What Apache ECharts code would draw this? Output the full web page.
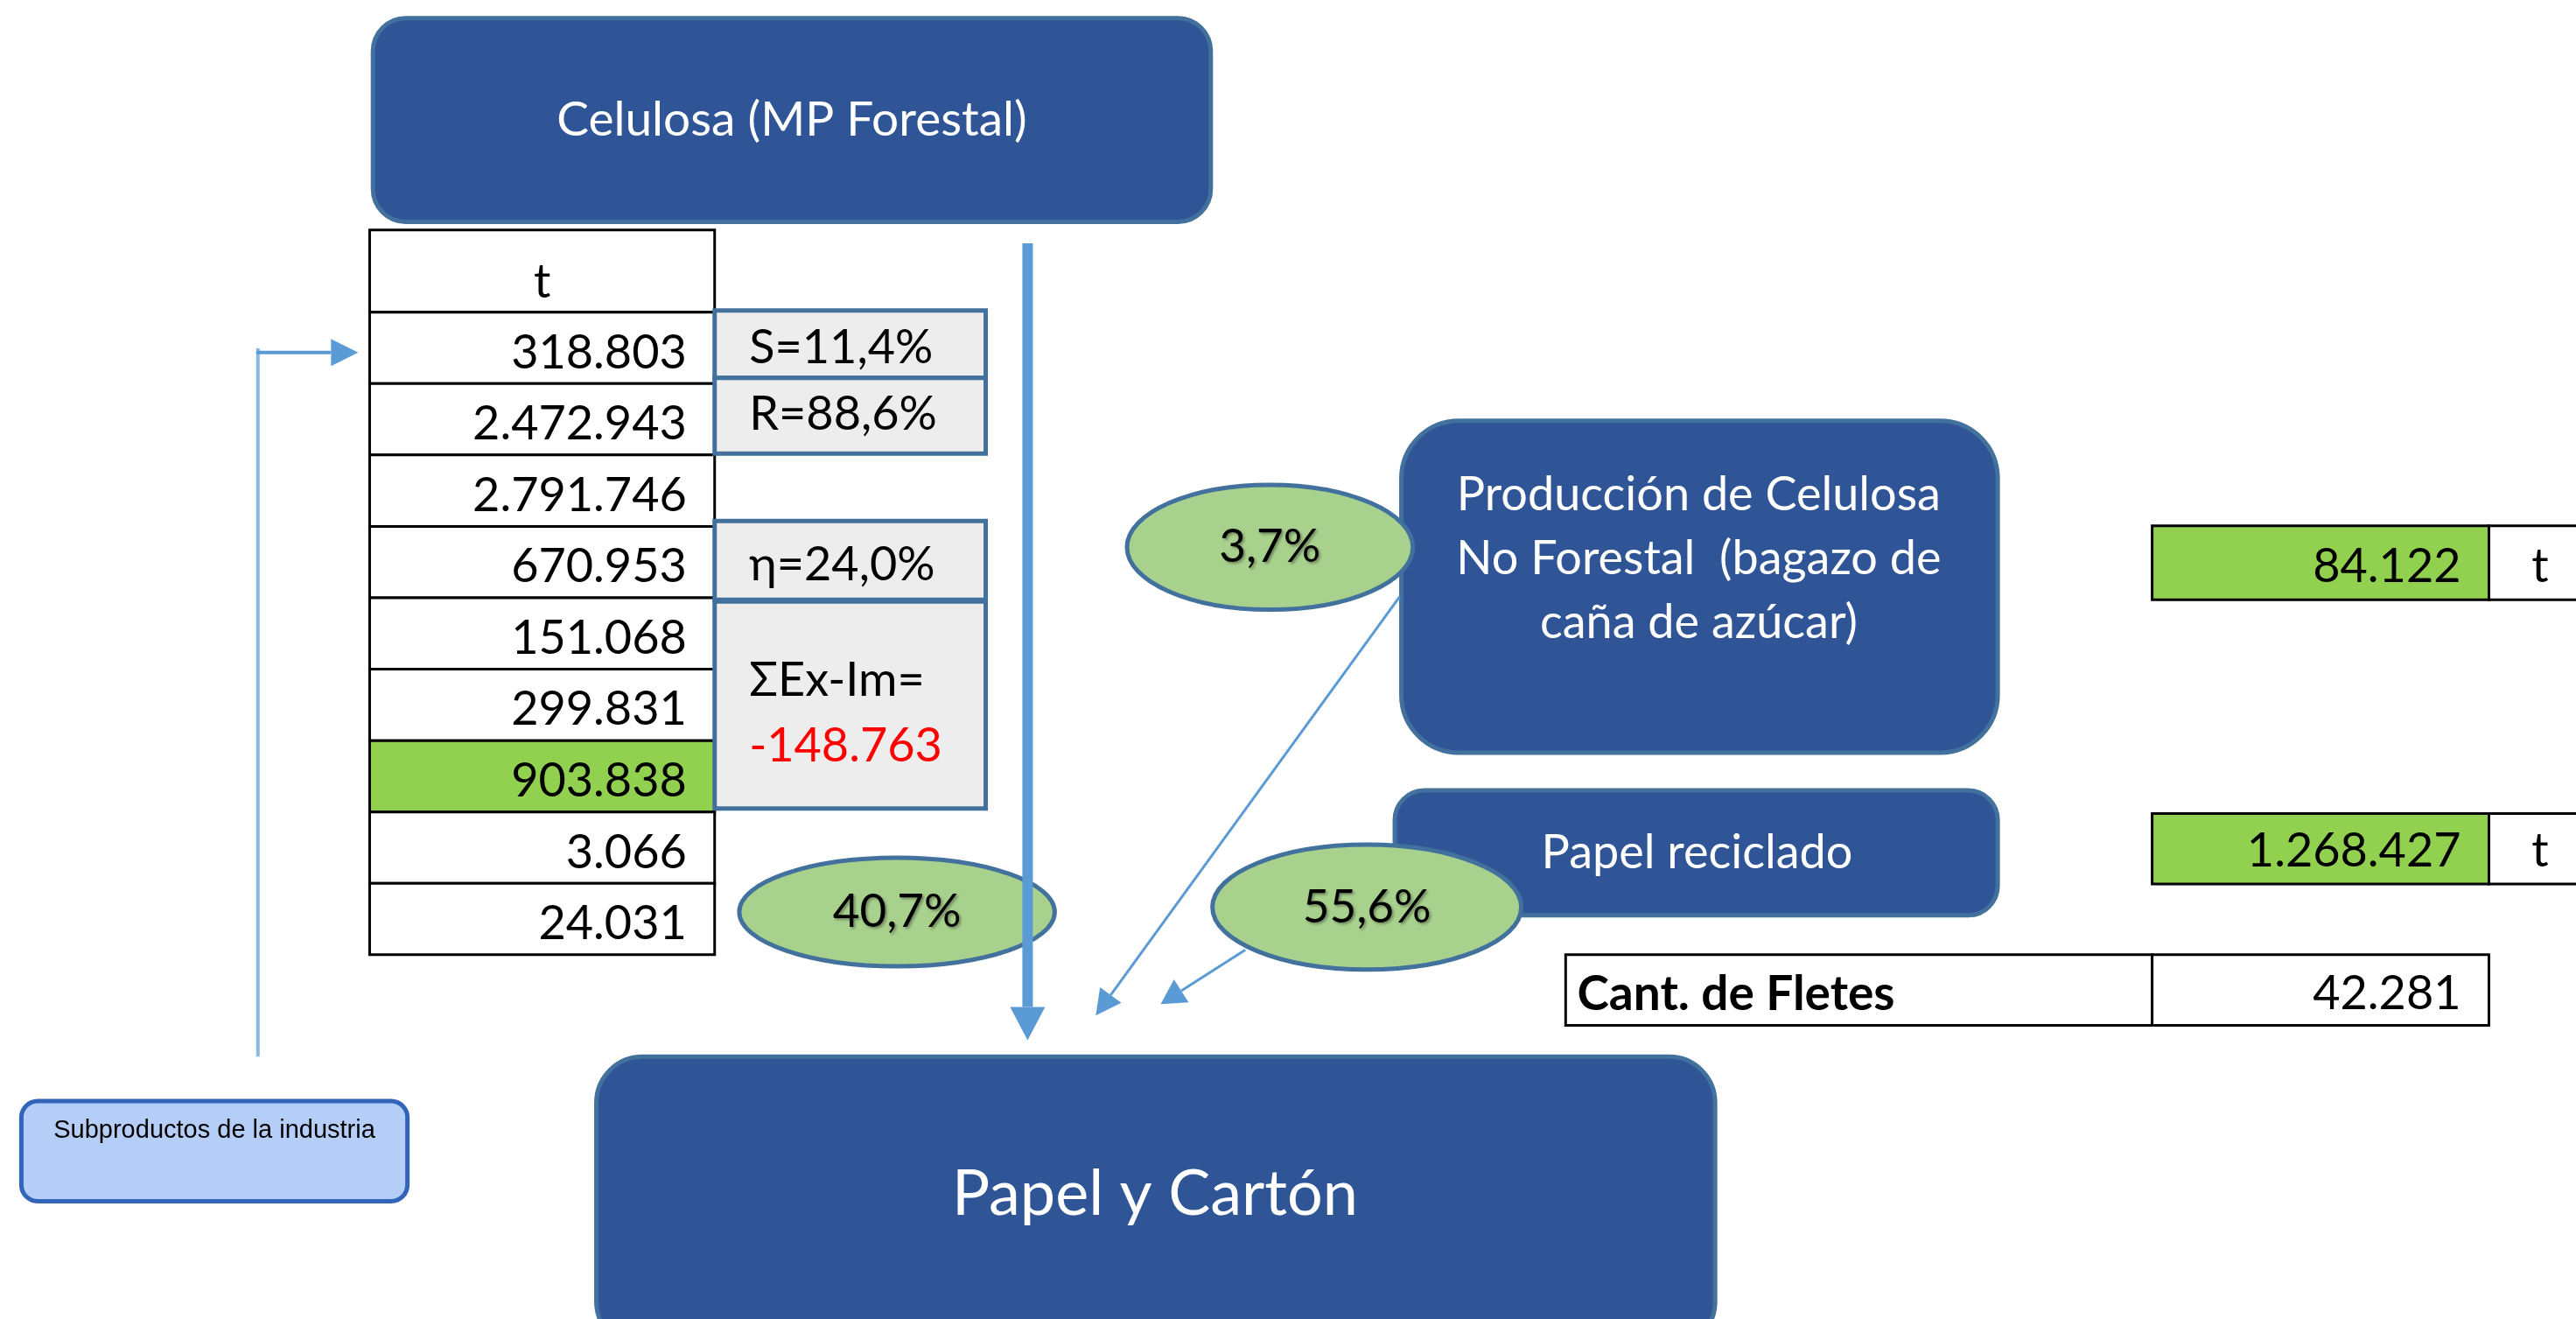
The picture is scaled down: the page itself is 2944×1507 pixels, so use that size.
<!DOCTYPE html>
<html>
<head>
<meta charset="utf-8">
<script src="https://cdn.jsdelivr.net/npm/echarts@6/dist/echarts.min.js"></script>
<style>
  html, body { margin: 0; padding: 0; background: #fff; }
  #main { width: 2944px; height: 1507px; }
</style>
</head>
<body>
<div id="main"></div>
<script>
// datos del diagrama (toneladas)
const celulosaHeader = 't';
const celulosaValues = [318803, 2472943, 2791746, 670953, 151068, 299831, 903838, 3066, 24031];
const celulosaHighlight = [6];
const indicatorLabels = ['S=11,4%', 'R=88,6%', 'η=24,0%'];
const balanceLabel = 'ΣEx-Im=';
const balanceValue = -148763;
const shareLabels = ['40,7%', '3,7%', '55,6%'];
const noForestalValue = 84122;
const recicladoValue = 1268427;
const fletesLabel = 'Cant. de Fletes';
const fletesValue = 42281;
const unitLabel = 't';
const boxTitles = [
  'Celulosa (MP Forestal)',
  'Producción de Celulosa\nNo Forestal  (bagazo de\ncaña de azúcar)',
  'Papel reciclado',
  'Papel y Cartón',
  'Subproductos de la industria'
];

// formato con punto de miles
function fmt(n) {
  let s = String(Math.abs(n)).replace(/\B(?=(\d{3})+(?!\d))/g, '.');
  return (n < 0 ? '-' : '') + s;
}

// coordenadas medidas sobre la imagen reducida (1568 de ancho)
const K = 2944 / 1568;
const u = v => v * K;

const DARK = '#2F5597', EDGE = '#41719C', ARROW = '#5B9BD5';
const GREEN = '#92D050', OVAL = '#A9D18E', GREY = '#EDEDED';
const FONT = 'Lato, "Open Sans", sans-serif';
const FS = 54;

let els = [];
let zz = 10;

function rect(x1, y1, x2, y2, fill, stroke, lw, r) {
  els.push({
    type: 'rect', z: zz++,
    shape: { x: u(x1), y: u(y1), width: u(x2 - x1), height: u(y2 - y1), r: r ? u(r) : 0 },
    style: { fill: fill, stroke: stroke || null, lineWidth: lw || 0 }
  });
}
function txt(x, y, text, o) {
  o = o || {};
  els.push({
    type: 'text', z: zz++,
    x: u(x), y: u(y),
    style: {
      text: text,
      fill: o.color || '#000',
      fontSize: o.size || FS,
      fontFamily: o.family || FONT,
      fontWeight: o.weight || 'normal',
      textAlign: o.align || 'center',
      textVerticalAlign: 'middle',
      lineHeight: o.lh || undefined,
      textShadowColor: o.shadow ? 'rgba(0,0,0,0.35)' : undefined,
      textShadowBlur: o.shadow ? 3 : undefined,
      textShadowOffsetX: o.shadow ? 2 : undefined,
      textShadowOffsetY: o.shadow ? 2 : undefined
    }
  });
}
function oval(cx, cy, rx, ry, label) {
  els.push({
    type: 'ellipse', z: zz++,
    shape: { cx: u(cx), cy: u(cy), rx: u(rx), ry: u(ry) },
    style: { fill: OVAL, stroke: EDGE, lineWidth: 5 }
  });
  txt(cx, cy, label, { shadow: true, size: 53 });
}
function arrow(x1, y1, x2, y2, lw, hl, hw, color) {
  x1 = u(x1); y1 = u(y1); x2 = u(x2); y2 = u(y2);
  let dx = x2 - x1, dy = y2 - y1, L = Math.hypot(dx, dy);
  let ux = dx / L, uy = dy / L;
  let bx = x2 - ux * hl, by = y2 - uy * hl;
  els.push({ type: 'line', z: zz++, shape: { x1: x1, y1: y1, x2: bx, y2: by },
    style: { stroke: color, lineWidth: lw } });
  els.push({ type: 'polygon', z: zz++,
    shape: { points: [[x2, y2], [bx - uy * hw / 2, by + ux * hw / 2], [bx + uy * hw / 2, by - ux * hw / 2]] },
    style: { fill: color } });
}

// conector de subproductos
els.push({ type: 'line', z: zz++, shape: { x1: u(157), y1: u(212), x2: u(157), y2: u(643) },
  style: { stroke: '#8AB8E2', lineWidth: 4 } });
arrow(156, 214.5, 218, 214.5, 4, 31, 31, ARROW);

// caja Celulosa
rect(227, 11, 737, 135, DARK, EDGE, 5, 20);
txt(482, 73, boxTitles[0], { color: '#fff', size: 55 });

// tabla principal
const tx1 = 225, tx2 = 435, hy1 = 140, hy2 = 190;
const rowH = (581 - hy2) / celulosaValues.length;
rect(tx1, hy1, tx2, hy2, '#fff', '#000', 3);
txt(330, 172, celulosaHeader);
celulosaValues.forEach(function (v, i) {
  let y = hy2 + i * rowH;
  rect(tx1, y, tx2, y + rowH, celulosaHighlight.indexOf(i) >= 0 ? GREEN : '#fff', '#000', 3);
  txt(418, y + rowH / 2 + 3, fmt(v), { align: 'right' });
});

// indicadores
rect(435, 189, 600, 230, GREY, EDGE, 5);
rect(435, 230, 600, 276, GREY, EDGE, 5);
rect(435, 317, 600, 365, GREY, EDGE, 5);
rect(435, 366, 600, 492, GREY, EDGE, 5);
txt(456, 212, indicatorLabels[0], { align: 'left' });
txt(456, 252, indicatorLabels[1], { align: 'left' });
txt(456, 344, indicatorLabels[2], { align: 'left' });
txt(456, 414, balanceLabel, { align: 'left' });
txt(456, 454, fmt(balanceValue), { align: 'left', color: '#FF0000' });

// cajas de la derecha
rect(853, 256, 1216, 458, DARK, EDGE, 5, 35);
txt(1034, 340, boxTitles[1], { color: '#fff', lh: 73 });
rect(849, 481, 1216, 557, DARK, EDGE, 5, 18);
txt(1033, 519, boxTitles[2], { color: '#fff' });

// tablas de la derecha
rect(1310, 320, 1515, 365, GREEN, '#000', 3);
rect(1515, 320, 1580, 365, '#fff', '#000', 3);
txt(1498, 345, fmt(noForestalValue), { align: 'right' });
txt(1541, 345, unitLabel, { align: 'left' });
rect(1310, 495, 1515, 538, GREEN, '#000', 3);
rect(1515, 495, 1580, 538, '#fff', '#000', 3);
txt(1498, 518, fmt(recicladoValue), { align: 'right' });
txt(1541, 518, unitLabel, { align: 'left' });
rect(953, 581, 1310, 624, '#fff', '#000', 3);
rect(1310, 581, 1515, 624, '#fff', '#000', 3);
txt(960, 605, fletesLabel, { align: 'left', weight: 'bold', size: 55 });
txt(1498, 605, fmt(fletesValue), { align: 'right' });

// flechas y porcentajes
arrow(852, 363, 667, 618, 3, 29, 30, ARROW);
oval(773, 333, 87, 38, shareLabels[1]);
oval(832, 552, 94, 38, shareLabels[2]);
arrow(758, 578, 706.5, 611, 3, 28, 31, ARROW);
oval(546, 555, 96, 33, shareLabels[0]);
arrow(625.5, 148, 625.5, 633, 12, 38, 40, ARROW);

// Papel y Cartón
rect(363, 643, 1044, 820, DARK, EDGE, 5, 28);
txt(703, 727, boxTitles[3], { color: '#fff', size: 72 });

// Subproductos
rect(13, 670, 248, 731, '#B4CEF8', '#3264B8', 5, 10);
txt(130.5, 688, boxTitles[4], { size: 29, family: '"Liberation Sans", Arial, sans-serif' });

const chart = echarts.init(document.getElementById('main'));
chart.setOption({
  backgroundColor: '#fff',
  animation: false,
  graphic: { elements: els }
});
</script>
</body>
</html>
